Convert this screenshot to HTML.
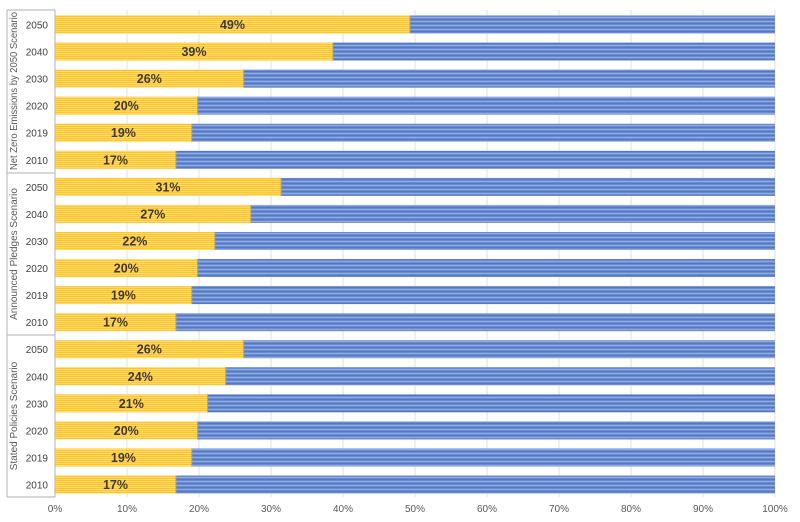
<!DOCTYPE html>
<html><head><meta charset="utf-8"><style>
html,body{margin:0;padding:0;background:#fff;}
svg{display:block;font-family:"Liberation Sans",Arial,sans-serif;}
</style></head><body>
<svg width="800" height="522" viewBox="0 0 800 522" xmlns="http://www.w3.org/2000/svg">
<defs>
<pattern id="py" width="4" height="4" patternUnits="userSpaceOnUse">
<rect width="4" height="4" fill="#FFC52A"/>
<rect y="1" width="4" height="1" fill="#FFDB70"/>
<rect y="3" width="4" height="0.6" fill="#FFE699"/>
</pattern>
<pattern id="pb" width="4" height="4" patternUnits="userSpaceOnUse">
<rect width="4" height="4" fill="#6A8DD2"/>
<rect y="1" width="4" height="1" fill="#8FAAE0"/>
<rect y="3" width="4" height="0.7" fill="#4A70C0"/>
</pattern>
</defs>
<g id="grid" stroke="#e2e2e2" stroke-width="1">
<line x1="127" y1="10" x2="127" y2="497"/><line x1="199" y1="10" x2="199" y2="497"/>
<line x1="271" y1="10" x2="271" y2="497"/><line x1="343" y1="10" x2="343" y2="497"/>
<line x1="415" y1="10" x2="415" y2="497"/><line x1="487" y1="10" x2="487" y2="497"/>
<line x1="559" y1="10" x2="559" y2="497"/><line x1="631" y1="10" x2="631" y2="497"/>
<line x1="703" y1="10" x2="703" y2="497"/><line x1="775" y1="10" x2="775" y2="497"/>
</g>
<g id="bars"></g>
<g stroke="#bfbfbf" stroke-width="1.2" fill="none">
<line x1="55" y1="10" x2="55" y2="497"/>
<line x1="7" y1="10" x2="7" y2="497"/>
<line x1="7" y1="10" x2="55" y2="10"/>
<line x1="7" y1="173" x2="55" y2="173"/>
<line x1="7" y1="335" x2="55" y2="335"/>
<line x1="7" y1="497" x2="55" y2="497"/>
</g>
<g font-size="10" fill="#595959" text-anchor="middle">
<text transform="translate(17,91) rotate(-90)" textLength="158" lengthAdjust="spacingAndGlyphs">Net Zero Emissions by 2050 Scenario</text>
<text transform="translate(17,254) rotate(-90)">Announced Pledges Scenario</text>
<text transform="translate(17,416) rotate(-90)">Stated Policies Scenario</text>
</g>
<g font-size="10" fill="#595959" text-anchor="middle">
<text x="55" y="512">0%</text><text x="127" y="512">10%</text><text x="199" y="512">20%</text>
<text x="271" y="512">30%</text><text x="343" y="512">40%</text><text x="415" y="512">50%</text>
<text x="487" y="512">60%</text><text x="559" y="512">70%</text><text x="631" y="512">80%</text>
<text x="703" y="512">90%</text><text x="775" y="512">100%</text>
</g>
<g id="labels"></g>
<script>
var vals=[49.3,38.6,26.2,19.8,19,16.8,31.4,27.2,22.2,19.8,19,16.8,26.2,23.7,21.2,19.8,19,16.8];
var txt=["49%","39%","26%","20%","19%","17%","31%","27%","22%","20%","19%","17%","26%","24%","21%","20%","19%","17%"];
var yrs=["2050","2040","2030","2020","2019","2010"];
var ns="http://www.w3.org/2000/svg",b=document.getElementById("bars"),l=document.getElementById("labels");
function el(t,a,p){var e=document.createElementNS(ns,t);for(var k in a)e.setAttribute(k,a[k]);p.appendChild(e);return e;}
for(var i=0;i<18;i++){
var y=15.5+i*27.06,w=vals[i]*7.2;
el("rect",{x:55,y:y,width:w,height:18,fill:"url(#py)"},b);
el("rect",{x:55+w,y:y,width:720-w,height:18,fill:"url(#pb)"},b);
el("line",{x1:55+w,y1:y,x2:55+w,y2:y+18,stroke:"#d9a400","stroke-width":1},b);
var t=el("text",{x:55+w/2,y:y+13.5,"text-anchor":"middle","font-size":"12.5","font-weight":"bold",fill:"#3a3a3a"},l);t.textContent=txt[i];
var s=el("text",{x:48,y:y+13,"text-anchor":"end","font-size":"10",fill:"#404040"},l);s.textContent=yrs[i%6];
}
</script>
</svg>
</body></html>
